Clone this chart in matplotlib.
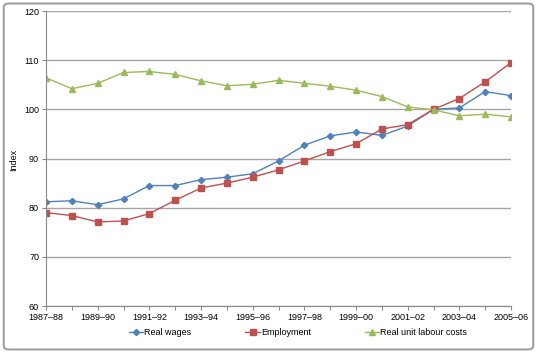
import matplotlib
matplotlib.use("Agg")
import matplotlib.pyplot as plt
from matplotlib.patches import FancyBboxPatch

years = ["1987–88", "1988–89", "1989–90", "1990–91", "1991–92", "1992–93",
         "1993–94", "1994–95", "1995–96", "1996–97", "1997–98", "1998–99",
         "1999–00", "2000–01", "2001–02", "2002–03", "2003–04", "2004–05",
         "2005–06"]
real_wages = [81.2, 81.4, 80.6, 81.8, 84.5, 84.5, 85.7, 86.2, 86.9, 89.5,
              92.7, 94.6, 95.4, 94.7, 96.6, 100.0, 100.3, 103.6, 102.8]
employment = [79.0, 78.4, 77.1, 77.3, 78.8, 81.5, 84.0, 85.0, 86.2, 87.7,
              89.5, 91.4, 93.0, 96.0, 96.9, 100.0, 102.2, 105.6, 109.5]
unit_labour = [106.4, 104.2, 105.3, 107.5, 107.7, 107.1, 105.8, 104.8, 105.1,
               105.9, 105.3, 104.7, 103.9, 102.6, 100.5, 99.9, 98.7, 99.0, 98.5]

plt.rcParams["font.family"] = ["Liberation Sans", "DejaVu Sans"]

fig = plt.figure(figsize=(5.37, 3.53), dpi=100)
ax = fig.add_axes([0.0857, 0.1331, 0.8659, 0.8357])

x = list(range(len(years)))
ax.plot(x, real_wages, color="#4F81BD", marker="D", markersize=3.2, lw=1,
        label="Real wages")
ax.plot(x, employment, color="#C0504D", marker="s", markersize=4.8, lw=1,
        label="Employment")
ax.plot(x, unit_labour, color="#9BBB59", marker="^", markersize=5, lw=1,
        label="Real unit labour costs")

ax.set_xlim(0, len(years) - 1)
ax.set_ylim(60, 120)
ax.set_yticks(range(60, 121, 10))
ax.set_xticks(x)
ax.set_xticklabels([y if i % 2 == 0 else "" for i, y in enumerate(years)])
ax.yaxis.grid(True, color="#a6a6a6", lw=1)
ax.set_axisbelow(True)
for side in ("top", "right"):
    ax.spines[side].set_visible(False)
ax.spines["left"].set_color("#888888")
ax.spines["bottom"].set_color("#888888")
ax.tick_params(labelsize=6.5, length=3, color="#888888", pad=2)
ax.set_ylabel("Index", fontsize=6.5)
ax.yaxis.set_label_coords(-0.06, 0.495)

fig.legend(loc="center", bbox_to_anchor=(0.555, 0.057), ncol=3, frameon=False,
           fontsize=6.5, columnspacing=6, handlelength=1.6, handletextpad=0.1)

fig.patches.append(FancyBboxPatch((0.007, 0.01), 0.986, 0.98,
                                  boxstyle="round,pad=0,rounding_size=0.01",
                                  transform=fig.transFigure, fill=False,
                                  edgecolor="#a0a0a0", lw=1.5))

fig.savefig("out.png", dpi=100)
